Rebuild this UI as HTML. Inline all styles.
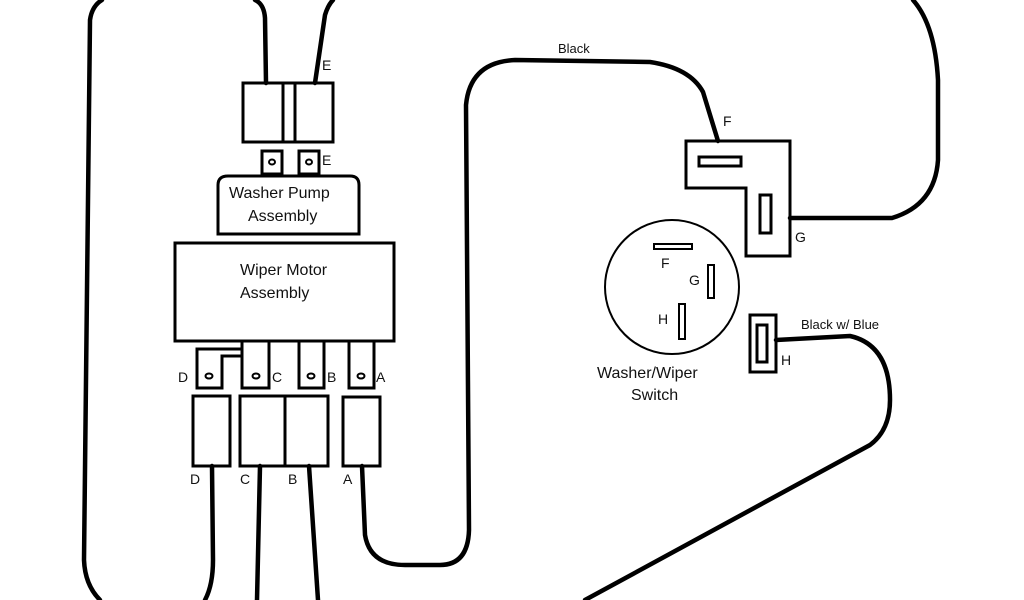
<!DOCTYPE html>
<html><head><style>
html,body{margin:0;padding:0;background:#fff;overflow:hidden;width:1024px;height:600px;}
svg{display:block;}
text{font-family:"Liberation Sans",sans-serif;fill:#111;}
</style></head><body>
<svg width="1024" height="600" viewBox="0 0 1024 600" xmlns="http://www.w3.org/2000/svg">
<g fill="none" stroke="#000" stroke-width="4.5" stroke-linecap="round" stroke-linejoin="round">
<path d="M266,83 L265,18 Q264,4 255,0 M212,466 L213,560 Q213,585 205,600 M100,600 Q85,585 84,560 L90,20 Q92,6 102,0"/>
<path d="M315,83 L325,15 Q328,5 333,0"/>
<path d="M260,466 L257,600 M309,466 L318,600"/>
<path d="M362,466 L365,535 Q370,565 405,565 L440,565 Q468,565 469,530 L466,105 Q470,62 515,60 L650,62 Q690,68 703,92 L718,141"/>
<path d="M790,218 L892,218 Q935,205 938,160 L938,80 Q935,25 913,0"/>
<path d="M776,340 L850,336 Q890,345 890,400 Q890,430 870,445 L585,600"/>
</g>
<g fill="none" stroke="#000" stroke-width="3">
<rect x="243" y="83" width="90" height="59"/>
<line x1="283" y1="83" x2="283" y2="142"/>
<line x1="295" y1="83" x2="295" y2="142"/>
<rect x="262" y="151" width="20" height="23"/>
<rect x="299" y="151" width="20" height="23"/>
<path d="M218,234 L218,185 Q218,176 228,176 L350,176 Q359,176 359,185 L359,234 Z"/>
<rect x="175" y="243" width="219" height="98"/>
<path d="M242,341 L242,356 L222,356 L222,388 L197,388 L197,349 L242,349"/>
<path d="M242,341 L242,388 L269,388 L269,341"/>
<path d="M299,341 L299,388 L324,388 L324,341"/>
<path d="M349,341 L349,388 L374,388 L374,341"/>
<rect x="193" y="396" width="37" height="70"/>
<rect x="240" y="396" width="88" height="70"/>
<line x1="285" y1="396" x2="285" y2="466"/>
<rect x="343" y="397" width="37" height="69"/>
<path d="M686,141 L790,141 L790,256 L746,256 L746,188 L686,188 Z"/>
<rect x="699" y="157" width="42" height="9"/>
<rect x="760" y="195" width="11" height="38"/>
<rect x="750" y="315" width="26" height="57"/>
<rect x="757" y="325" width="10" height="37"/>
</g>
<g fill="none" stroke="#000" stroke-width="2">
<circle cx="672" cy="287" r="67"/>
<rect x="654" y="244" width="38" height="5"/>
<rect x="708" y="265" width="6" height="33"/>
<rect x="679" y="304" width="6" height="35"/>
<ellipse cx="272" cy="162" rx="3" ry="2.5"/>
<ellipse cx="309" cy="162" rx="3" ry="2.5"/>
<ellipse cx="209" cy="376" rx="3.5" ry="2.5"/>
<ellipse cx="256" cy="376" rx="3.5" ry="2.5"/>
<ellipse cx="311" cy="376" rx="3.5" ry="2.5"/>
<ellipse cx="361" cy="376" rx="3.5" ry="2.5"/>
</g>
<g font-size="14">
<text x="322" y="70">E</text>
<text x="322" y="165">E</text>
<text x="178" y="382">D</text>
<text x="272" y="382">C</text>
<text x="327" y="382">B</text>
<text x="376" y="382">A</text>
<text x="190" y="484">D</text>
<text x="240" y="484">C</text>
<text x="288" y="484">B</text>
<text x="343" y="484">A</text>
<text x="723" y="126">F</text>
<text x="795" y="242">G</text>
<text x="661" y="268">F</text>
<text x="689" y="285">G</text>
<text x="658" y="324">H</text>
<text x="781" y="365">H</text>
</g>
<g font-size="13">
<text x="558" y="53">Black</text>
<text x="801" y="329">Black w/ Blue</text>
</g>
<g font-size="16">
<text x="229" y="198">Washer Pump</text>
<text x="248" y="221">Assembly</text>
<text x="240" y="275">Wiper Motor</text>
<text x="240" y="298">Assembly</text>
<text x="597" y="378">Washer/Wiper</text>
<text x="631" y="400">Switch</text>
</g>
</svg>
</body></html>
